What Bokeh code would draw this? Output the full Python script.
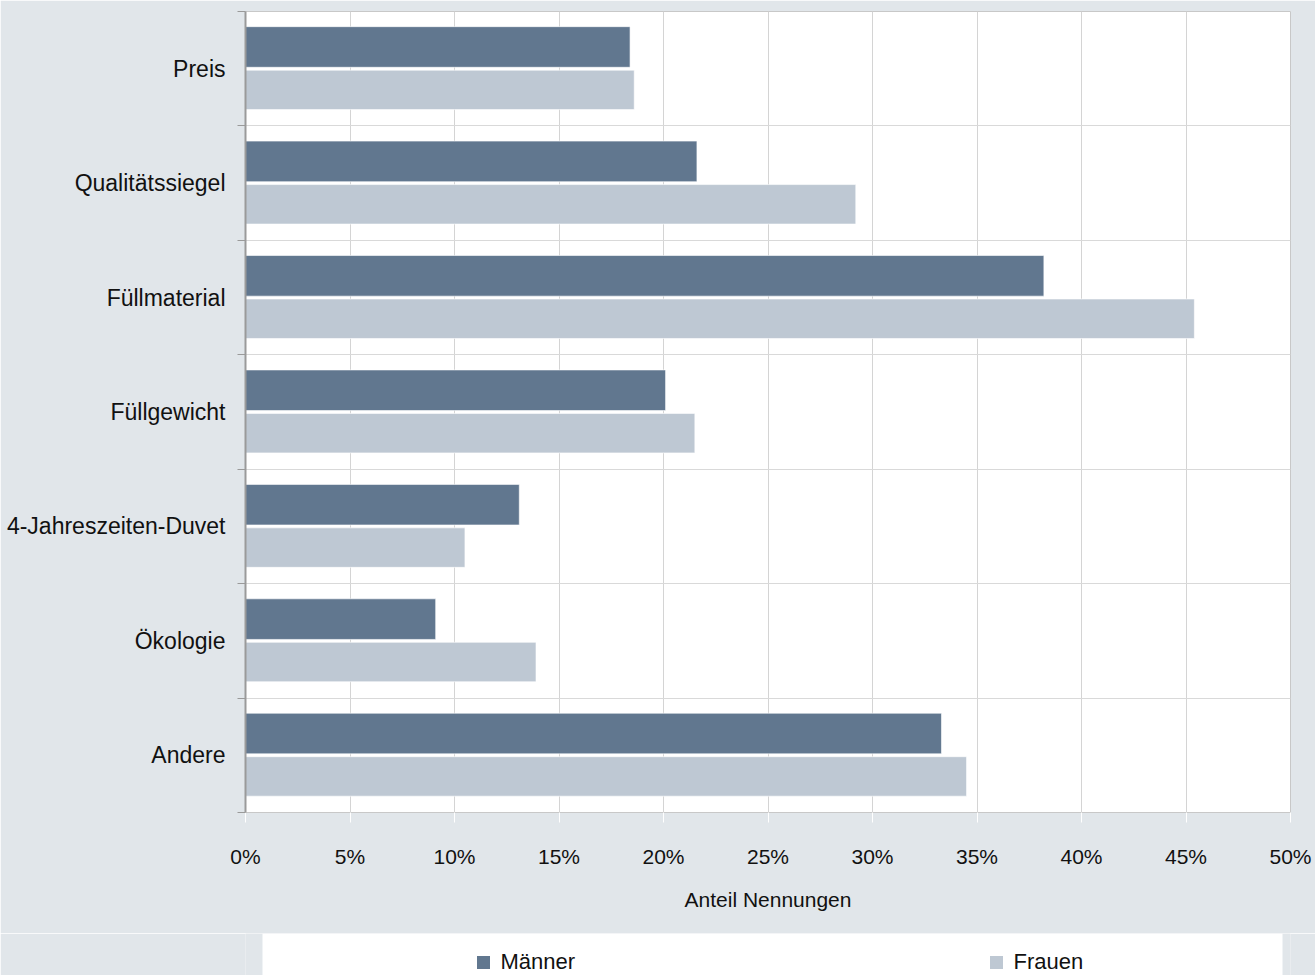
from bokeh.plotting import figure
from bokeh.layouts import column
from bokeh.models import Range1d, FixedTicker, NumeralTickFormatter, BoxAnnotation
from bokeh.core.properties import value
from bokeh.embed import file_html
from bokeh.resources import INLINE

categories = ["Preis", "Qualitätssiegel", "Füllmaterial", "Füllgewicht",
              "4-Jahreszeiten-Duvet", "Ökologie", "Andere"]
maenner = [18.4, 21.6, 38.2, 20.1, 13.1, 9.1, 33.3]
frauen = [18.6, 29.2, 45.4, 21.5, 10.5, 13.9, 34.5]
series_names = ["Männer", "Frauen"]
x_ticks = [0, 5, 10, 15, 20, 25, 30, 35, 40, 45, 50]
x_title = "Anteil Nennungen"

BG = "#e1e6ea"
DARK = "#61778f"
LIGHT = "#bec8d3"
FONT = "Liberation Sans Narrow, Arial Narrow, Liberation Sans, sans-serif"
TXT = "#111111"

n = len(categories)
centers = [n - 0.5 - i for i in range(n)]
boundaries = list(range(n + 1))

FL, FR = 245, 1290  # frame edges in page pixels
W, H_MAIN, H_LEG = 1315, 933, 42

p = figure(width=W, height=H_MAIN, output_backend="svg", toolbar_location=None,
           x_range=Range1d(0, 0.5), y_range=Range1d(0, n),
           min_border_left=FL, min_border_right=W - FR, min_border_top=11, min_border_bottom=121)
p.background_fill_color = "white"
p.border_fill_color = BG
p.outline_line_color = "#c8c8c8"

p.hbar(y=[c + 0.19 for c in centers], right=[v / 100 for v in maenner], left=0, height=0.355,
       fill_color=DARK, line_color="#ffffff", line_width=1, line_alpha=0.6)
p.hbar(y=[c - 0.185 for c in centers], right=[v / 100 for v in frauen], left=0, height=0.345,
       fill_color=LIGHT, line_color="#ffffff", line_width=1, line_alpha=0.6)

# x axis
xa = p.xaxis[0]
xa.ticker = FixedTicker(ticks=[t / 100 for t in x_ticks])
xa.formatter = NumeralTickFormatter(format="0%")
xa.axis_line_color = "#c8c8c8"
xa.major_tick_line_color = "white"
xa.major_tick_in = 0
xa.major_tick_out = 10
xa.minor_tick_line_color = None
xa.major_label_text_font = FONT
xa.major_label_text_font_size = "21px"
xa.major_label_text_color = TXT
xa.major_label_standoff = 22
xa.axis_label = x_title
xa.axis_label_text_font = FONT
xa.axis_label_text_font_size = "21px"
xa.axis_label_text_font_style = "normal"
xa.axis_label_text_color = TXT
xa.axis_label_standoff = 17

# y axis
ya = p.yaxis[0]
ya.ticker = FixedTicker(ticks=centers, minor_ticks=boundaries)
ya.major_label_overrides = {c: cat for c, cat in zip(centers, categories)}
ya.axis_line_color = "#9a9a9a"
ya.axis_line_width = 2
ya.major_tick_line_color = None
ya.minor_tick_line_color = "#9a9a9a"
ya.minor_tick_out = 8
ya.minor_tick_in = 0
ya.major_label_text_font = FONT
ya.major_label_text_font_size = "23px"
ya.major_label_text_color = TXT
ya.major_label_standoff = 12

p.xgrid.grid_line_color = "#d4d4d4"
p.xgrid.ticker = FixedTicker(ticks=[t / 100 for t in x_ticks])
p.ygrid.grid_line_color = None
p.ygrid.minor_grid_line_color = "#d9d9d9"

# legend strip (frame aligned with main plot; x in page pixels)
lg = figure(width=W, height=H_LEG, output_backend="svg", toolbar_location=None,
            x_range=Range1d(FL, FR), y_range=Range1d(0, H_LEG),
            min_border_left=FL, min_border_right=W - FR, min_border_top=0, min_border_bottom=0)
lg.background_fill_color = BG
lg.border_fill_color = BG
lg.outline_line_color = None
lg.axis.visible = False
lg.grid.visible = False
lg.add_layout(BoxAnnotation(left=262, right=1282, fill_color="white", fill_alpha=1,
                            line_color=None, level="underlay"))
leg_x = [483, 996]
lg.scatter(x=leg_x, y=[13, 13], marker="square", size=13,
           fill_color=[DARK, LIGHT], line_color=None)
lg.text(x=[x + 17 for x in leg_x], y=[14, 14], text=series_names,
        text_font=value(FONT), text_font_size="22px", text_color=TXT,
        text_baseline="middle", text_align="left")

layout = column(p, lg, spacing=0)
html = file_html(layout, INLINE)
html = html.replace("<body>", '<body style="margin:0;background:%s">' % BG, 1)
open("out.html", "w").write(html)
